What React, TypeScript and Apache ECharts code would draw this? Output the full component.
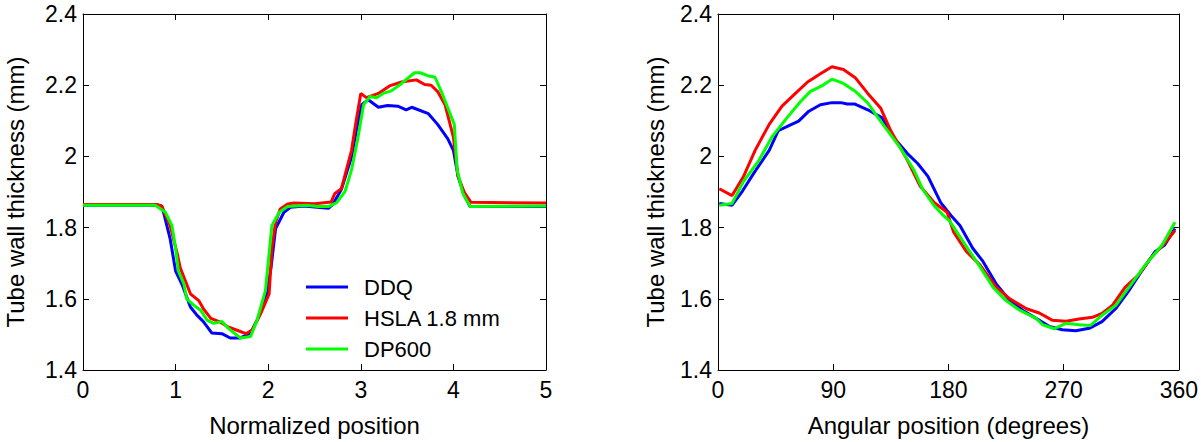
import React, { useEffect, useRef } from "react";
import * as echarts from "echarts";

const seriesNames = ["DDQ", "HSLA 1.8 mm", "DP600"];
const seriesColors = ["#0000ff", "#ff0000", "#00ff00"];

const yTicks = [1.4, 1.6, 1.8, 2.0, 2.2, 2.4];
const xTicksLeft = [0, 1, 2, 3, 4, 5];
const xTicksRight = [0, 90, 180, 270, 360];

// Left panel: thickness vs normalized position
const ddqPosition = [
  [0, 1.863], [0.8, 1.863], [0.85, 1.86], [0.87, 1.843], [0.94, 1.77], [1.0, 1.678], [1.07, 1.64],
  [1.16, 1.577], [1.23, 1.554], [1.3, 1.536], [1.39, 1.504], [1.5, 1.502], [1.59, 1.49], [1.7, 1.49],
  [1.81, 1.504], [1.88, 1.54], [1.97, 1.595], [2.03, 1.687], [2.08, 1.797], [2.17, 1.843], [2.24, 1.857],
  [2.39, 1.861], [2.5, 1.858], [2.65, 1.854], [2.7, 1.866], [2.79, 1.907], [2.9, 1.998], [2.95, 2.07],
  [3.01, 2.145], [3.08, 2.159], [3.19, 2.138], [3.29, 2.143], [3.4, 2.141], [3.49, 2.131], [3.55, 2.138],
  [3.73, 2.12], [3.83, 2.09], [3.94, 2.049], [4.0, 2.017], [4.05, 1.944], [4.12, 1.889], [4.18, 1.859],
  [5, 1.859],
];
const hslaPosition = [
  [0, 1.865], [0.8, 1.865], [0.85, 1.861], [0.94, 1.806], [1.02, 1.724], [1.05, 1.687], [1.12, 1.641],
  [1.16, 1.614], [1.25, 1.595], [1.3, 1.572], [1.38, 1.545], [1.47, 1.536], [1.56, 1.522], [1.67, 1.511],
  [1.76, 1.502], [1.83, 1.513], [1.92, 1.559], [2.01, 1.614], [2.04, 1.742], [2.08, 1.815], [2.13, 1.852],
  [2.21, 1.866], [2.28, 1.869], [2.5, 1.867], [2.68, 1.872], [2.72, 1.896], [2.79, 1.909], [2.9, 2.017],
  [2.95, 2.1], [3.0, 2.177], [3.06, 2.165], [3.19, 2.177], [3.31, 2.198], [3.44, 2.209], [3.6, 2.215],
  [3.69, 2.202], [3.76, 2.2], [3.83, 2.182], [3.91, 2.145], [4.0, 2.054], [4.05, 1.944], [4.12, 1.898],
  [4.19, 1.871], [5, 1.869],
];
const dp600Position = [
  [0, 1.863], [0.78, 1.863], [0.8, 1.859], [0.89, 1.843], [0.96, 1.806], [1.0, 1.742], [1.03, 1.678],
  [1.09, 1.641], [1.12, 1.6], [1.2, 1.581], [1.27, 1.568], [1.34, 1.54], [1.41, 1.531], [1.5, 1.536],
  [1.57, 1.517], [1.7, 1.49], [1.81, 1.494], [1.88, 1.54], [1.97, 1.623], [2.04, 1.806], [2.12, 1.843],
  [2.21, 1.859], [2.42, 1.863], [2.54, 1.859], [2.65, 1.859], [2.74, 1.87], [2.83, 1.902], [2.9, 1.962],
  [2.97, 2.054], [3.03, 2.145], [3.1, 2.168], [3.17, 2.165], [3.24, 2.177], [3.33, 2.184], [3.44, 2.205],
  [3.58, 2.235], [3.64, 2.235], [3.73, 2.226], [3.8, 2.223], [3.87, 2.182], [3.94, 2.136], [4.01, 2.09],
  [4.04, 1.962], [4.1, 1.898], [4.18, 1.859], [5, 1.861],
];

// Right panel: thickness vs angular position
const ddqAngle = [
  [1, 1.868], [11, 1.863], [19, 1.902], [28, 1.953], [40, 2.017], [47, 2.072], [55, 2.086], [63, 2.099],
  [71, 2.127], [80, 2.145], [89, 2.151], [96, 2.151], [101, 2.147], [107, 2.147], [117, 2.131],
  [128, 2.109], [137, 2.054], [148, 2.008], [156, 1.98], [164, 1.944], [174, 1.87], [182, 1.834],
  [189, 1.806], [199, 1.742], [207, 1.705], [217.5, 1.641], [228, 1.595], [238, 1.568], [248.5, 1.545],
  [259, 1.522], [269, 1.513], [279.6, 1.51], [290, 1.517], [300, 1.536], [310.6, 1.572], [321, 1.623],
  [331, 1.678], [341.6, 1.733], [349, 1.751], [357, 1.797],
];
const hslaAngle = [
  [1, 1.909], [11, 1.89], [20, 1.944], [29, 2.017], [40, 2.09], [50, 2.141], [60.5, 2.177], [70, 2.209],
  [80, 2.232], [89, 2.252], [98, 2.244], [107.5, 2.22], [117, 2.177], [127, 2.136], [135, 2.072],
  [148, 1.989], [158, 1.916], [169, 1.87], [179, 1.843], [184, 1.788], [194, 1.733], [204.5, 1.696],
  [217.5, 1.632], [228, 1.6], [241, 1.572], [251, 1.56], [261, 1.54], [272, 1.537], [282, 1.543],
  [292.5, 1.548], [300, 1.559], [308, 1.581], [318, 1.632], [329, 1.669], [338, 1.714], [349, 1.756],
  [357, 1.792],
];
const dp600Angle = [
  [1, 1.863], [11, 1.868], [20, 1.93], [32, 1.989], [42, 2.054], [54, 2.109], [64.5, 2.154], [72, 2.182],
  [81, 2.198], [89, 2.217], [98, 2.205], [107.5, 2.182], [117, 2.15], [127, 2.099], [143, 2.021],
  [153, 1.962], [160, 1.907], [169, 1.861], [175, 1.838], [181, 1.818], [191.6, 1.76], [204.5, 1.691],
  [215, 1.632], [225, 1.595], [235.6, 1.568], [248.5, 1.545], [253.7, 1.527], [262.8, 1.516],
  [271.8, 1.531], [282, 1.527], [291, 1.525], [300, 1.554], [310.6, 1.581], [321, 1.632], [334, 1.696],
  [347, 1.751], [357, 1.815],
];

const FONT = "'Liberation Sans', Arial, Helvetica, sans-serif";
const TICK_FS = 23;
const NAME_FS = 24;
const LEGEND_FS = 22;

// legend key: a 42-px line followed by a near-invisible sliver that reserves space before the text
const LEGEND_ICON = "path://M0,0H42V3H0ZM52.98,0H53V3H52.98Z";

export default function App() {
  const ref = useRef<HTMLDivElement>(null);

  useEffect(() => {
    if (!ref.current) return;
    const chart = echarts.init(ref.current, undefined, { renderer: "svg" });

    const line = { show: true, lineStyle: { color: "#000", width: 1 } };
    const tick = { show: true, inside: true, length: 6, lineStyle: { color: "#000" } };
    const mkX = (gridIndex: number, min: number, max: number, interval: number, name: string) => [
      {
        type: "value", gridIndex, min, max, interval, position: "bottom",
        name, nameLocation: "middle", nameGap: 43,
        nameTextStyle: { fontFamily: FONT, fontSize: NAME_FS, color: "#000" },
        axisLine: { ...line, onZero: false },
        axisTick: tick,
        axisLabel: { show: true, margin: 8, fontFamily: FONT, fontSize: TICK_FS, color: "#000" },
        splitLine: { show: false },
      },
      {
        type: "value", gridIndex, min, max, interval, position: "top",
        axisLine: { ...line, onZero: false },
        axisTick: tick,
        axisLabel: { show: false },
        splitLine: { show: false },
      },
    ];
    const mkY = (gridIndex: number, nameGap: number) => [
      {
        type: "value", gridIndex, min: yTicks[0], max: yTicks[yTicks.length - 1], interval: 0.2,
        position: "left", name: "Tube wall thickness (mm)", nameLocation: "middle", nameGap,
        nameTextStyle: { fontFamily: FONT, fontSize: NAME_FS, color: "#000" },
        axisLine: { ...line, onZero: false },
        axisTick: tick,
        axisLabel: { show: true, margin: 6, fontFamily: FONT, fontSize: TICK_FS, color: "#000" },
        splitLine: { show: false },
      },
      {
        type: "value", gridIndex, min: yTicks[0], max: yTicks[yTicks.length - 1], interval: 0.2,
        position: "right",
        axisLine: { ...line, onZero: false },
        axisTick: tick,
        axisLabel: { show: false },
        splitLine: { show: false },
      },
    ];

    const leftData = [ddqPosition, hslaPosition, dp600Position];
    const rightData = [ddqAngle, hslaAngle, dp600Angle];
    const series: any[] = [];
    seriesNames.forEach((n, i) => {
      series.push({
        type: "line", name: n, data: leftData[i], xAxisIndex: 0, yAxisIndex: 0,
        showSymbol: false, symbol: "none", lineStyle: { color: seriesColors[i], width: 3 },
        itemStyle: { color: seriesColors[i] }, z: 3 + i,
      });
    });
    seriesNames.forEach((n, i) => {
      series.push({
        type: "line", name: n, data: rightData[i], xAxisIndex: 2, yAxisIndex: 2,
        showSymbol: false, symbol: "none", lineStyle: { color: seriesColors[i], width: 3 },
        itemStyle: { color: seriesColors[i] }, z: 3 + i,
      });
    });

    chart.setOption({
      animation: false,
      backgroundColor: "#fff",
      grid: [
        { left: 83, top: 14, width: 463, height: 364 },
        { left: 718, top: 14, width: 463, height: 364 },
      ],
      xAxis: [
        ...mkX(0, xTicksLeft[0], xTicksLeft[xTicksLeft.length - 1], 1, "Normalized position"),
        ...mkX(1, xTicksRight[0], xTicksRight[xTicksRight.length - 1], 90, "Angular position (degrees)"),
      ],
      yAxis: [...mkY(0, 56), ...mkY(1, 51)],
      legend: {
        show: true, orient: "vertical", left: 306, top: 275, padding: 0,
        itemWidth: 53, itemHeight: 3, itemGap: 7, icon: LEGEND_ICON,
        data: seriesNames,
        textStyle: { fontFamily: FONT, fontSize: LEGEND_FS, color: "#000", lineHeight: 24 },
        selectedMode: false,
      },
      series,
    });

    return () => chart.dispose();
  }, []);

  return (
    <div
      ref={ref}
      style={{ position: "absolute", left: 0, top: 0, width: 1201, height: 442, background: "#fff" }}
    />
  );
}
